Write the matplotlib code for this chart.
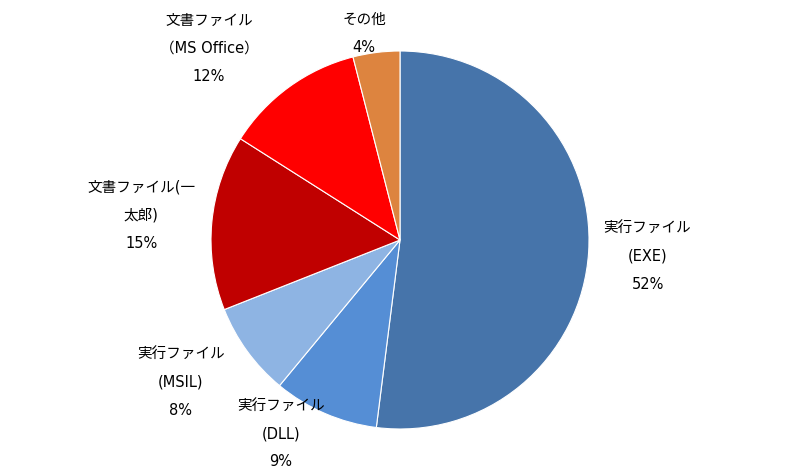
import matplotlib
matplotlib.use("Agg")
import matplotlib.pyplot as plt

plt.rcParams['font.family'] = ['DejaVu Sans', 'Noto Sans CJK JP']

labels = ["実行ファイル\n(EXE)", "実行ファイル\n(DLL)", "実行ファイル\n(MSIL)",
          "文書ファイル(一\n太郎)", "文書ファイル\n（MS Office）", "その他"]
values = [52, 9, 8, 15, 12, 4]
colors = ["#4674AA", "#558ED5", "#8EB4E3", "#C00000", "#FF0000", "#DD843F"]
label_pos = [(1.31, -0.08), (-0.63, -1.02), (-1.16, -0.745),
             (-1.37, 0.135), (-1.01, 1.02), (-0.19, 1.10)]

fig = plt.figure(figsize=(8, 4.77), dpi=100)
ax = fig.add_axes([211/800, 47/477, 378/800, 378/477])
ax.pie(values, colors=colors, startangle=90, counterclock=False,
       wedgeprops=dict(edgecolor="white", linewidth=0.8), radius=1)
ax.set_xlim(-1, 1)
ax.set_ylim(-1, 1)
ax.set_aspect('equal')
ax.axis('off')

for lab, v, (x, y) in zip(labels, values, label_pos):
    ax.text(x, y, f"{lab}\n{v}%", ha='center', va='center', fontsize=10.5,
            linespacing=2.1, color='#000000', clip_on=False)

fig.savefig("out.png", dpi=100)
